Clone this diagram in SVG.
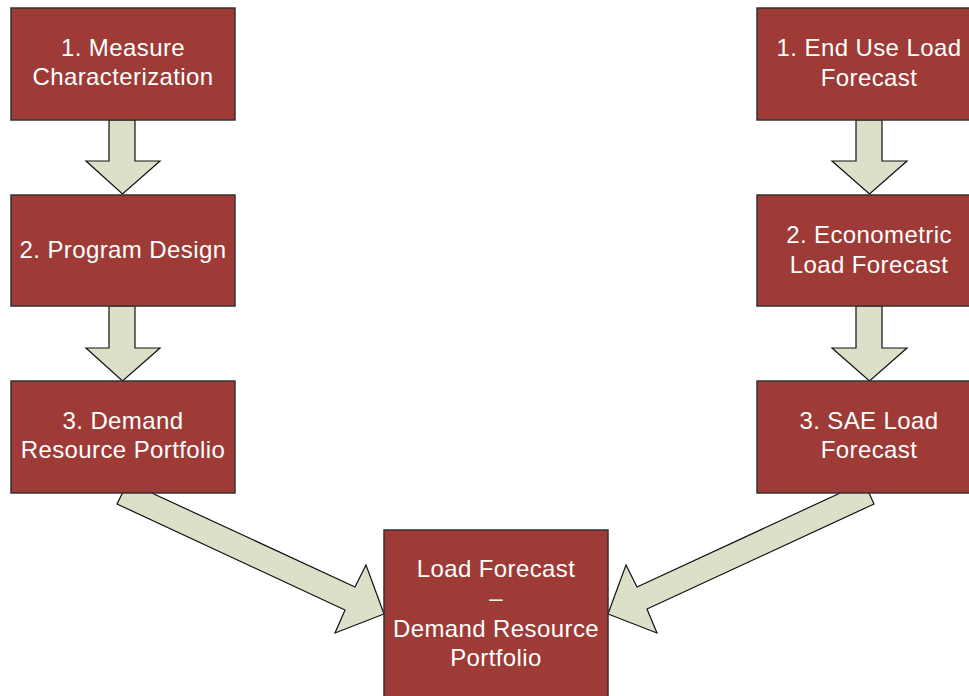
<svg xmlns="http://www.w3.org/2000/svg" width="969" height="696" viewBox="0 0 969 696">
<style>
.box{fill:#9E3B36;stroke:#333;stroke-width:1.5}
.arr{fill:#DCE0C9;stroke:#111;stroke-width:1.2;stroke-linejoin:miter}
.t{fill:#fff;font-family:"Liberation Sans",Arial,sans-serif;font-size:24px;text-anchor:middle;letter-spacing:0.4px}
</style>
<rect width="969" height="696" fill="#fff"/>
<g id="connectors">
<polygon class="arr" points="109,120 135,120 135,161 160,161 122.5,194 86,161 109,161"/>
<polygon class="arr" points="109,306 135,306 135,348 160,348 122.5,381 86,348 109,348"/>
<polygon class="arr" points="856,120 882,120 882,161 907,161 869.5,194 832,161 856,161"/>
<polygon class="arr" points="856,306 882,306 882,348 907,348 869.5,381 832,348 856,348"/>
<polygon class="arr" points="128,482 355,587 366,565 384,614 335,633 345,610 117,504"/>
<polygon class="arr" points="864,482 637,587 626,565 608,614 657,633 647,609 874,504"/>
</g>
<g id="n-measure"><rect class="box" x="11" y="8" width="224" height="112"/><text class="t" x="123" y="56">1. Measure</text><text class="t" x="123" y="85">Characterization</text></g>
<g id="n-program"><rect class="box" x="11" y="195" width="224" height="111"/><text class="t" x="123" y="258">2. Program Design</text></g>
<g id="n-portfolio"><rect class="box" x="11" y="381" width="224" height="112"/><text class="t" x="123" y="429">3. Demand</text><text class="t" x="123" y="458">Resource Portfolio</text></g>
<g id="n-enduse"><rect class="box" x="757" y="8" width="224" height="112"/><text class="t" x="869" y="56">1. End Use Load</text><text class="t" x="869" y="86">Forecast</text></g>
<g id="n-econometric"><rect class="box" x="757" y="195" width="224" height="111"/><text class="t" x="869" y="243">2. Econometric</text><text class="t" x="869" y="273">Load Forecast</text></g>
<g id="n-sae"><rect class="box" x="757" y="381" width="224" height="112"/><text class="t" x="869" y="429">3. SAE Load</text><text class="t" x="869" y="458">Forecast</text></g>
<g id="n-combined"><rect class="box" x="384" y="530" width="224" height="180"/><text class="t" x="496" y="577">Load Forecast</text><text class="t" x="496" y="606">–</text><text class="t" x="496" y="637">Demand Resource</text><text class="t" x="496" y="666">Portfolio</text></g>
</svg>
